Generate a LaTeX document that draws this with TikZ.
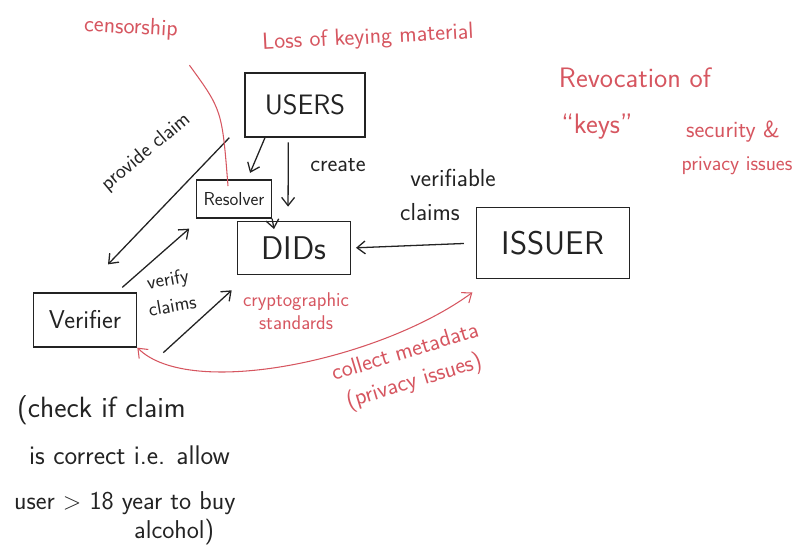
\documentclass[tikz,border=0pt]{standalone}
\usepackage{xcolor}
\usetikzlibrary{arrows.meta}
\definecolor{ink}{RGB}{35,35,35}
\definecolor{marker}{RGB}{214,86,96}

\begin{document}
\begin{tikzpicture}
[x=0.03cm,y=-0.03cm,
fs/.style={font=\sffamily\fontsize{#1}{#1}\selectfont},
box/.style={draw=ink,line width=1.1pt,text=ink,inner sep=2pt},
txt/.style={text=ink},
note/.style={text=marker},
arr/.style={-{Straight Barb[length=7pt,width=11pt]},line width=1.1pt,draw=ink},
rarr/.style={{Straight Barb[length=7pt,width=11pt]}-{Straight Barb[length=7pt,width=11pt]},line width=0.9pt,draw=marker},
rline/.style={line width=0.9pt,draw=marker}]
\useasboundingbox (0,0) rectangle (804,552);
% boxes
\node[box,fs=24,minimum width=3.6cm,minimum height=1.92cm] (users) at (305,105) {USERS};
\node[box,fs=16,minimum width=2.25cm,minimum height=1.14cm] (resolver) at (234,199) {Resolver};
\node[box,fs=28,minimum width=3.4cm,minimum height=1.6cm] (dids) at (294,248) {DIDs};
\node[box,fs=28,minimum width=4.6cm,minimum height=2.13cm] (issuer) at (553,243) {ISSUER};
\node[box,fs=22,minimum width=3.1cm,minimum height=1.62cm] (verifier) at (85,320) {Verifier};
% black labels
\node[txt,fs=20] (create) at (338,165) {create};
\node[txt,fs=21] (verifiable) at (453,178) {verifiable};
\node[txt,fs=21] (claims) at (430,212) {claims};
\node[txt,fs=18,rotate=40] (provide) at (146,152) {provide claim};
\node[txt,fs=17,align=center,rotate=10] (verify) at (170,292) {verify\\[6pt]claims};
\node[txt,fs=25,anchor=west] (check) at (13,410) {(check if claim};
\node[txt,fs=23,anchor=west] (correct) at (25,455) {is correct i.e. allow};
\node[txt,fs=22,anchor=west] (user) at (10,503) {user $>$ 18 year to buy};
\node[txt,fs=22,anchor=west] (alcohol) at (130,532) {alcohol)};
% red notes
\node[note,fs=20,rotate=-3] (censorship) at (131,28) {censorship};
\node[note,fs=20,rotate=3] (keying) at (368,38) {Loss of keying material};
\node[note,fs=17,align=center] (crypto) at (296,311) {cryptographic\\[3pt]standards};
\node[note,fs=20,align=center,rotate=17] (metadata) at (410,368) {collect metadata\\[6pt](privacy issues)};
\node[note,fs=24] (revocation) at (635,78) {Revocation of};
\node[note,fs=24] (keys) at (597,127) {“keys”};
\node[note,fs=20] (security) at (733,132) {security \&};
\node[note,fs=18] (privacy) at (737,166) {privacy issues};
% connectors
\draw[arr,shorten >=6pt] ([xshift=-1.2cm]users.south) -- ([xshift=0.4cm]resolver.north);
\draw[arr,shorten <=4pt,shorten >=12pt] ([xshift=-0.5cm]users.south) -- ([xshift=-0.18cm]dids.north);
\draw[arr] (resolver.south east) -- ([xshift=-0.6cm,yshift=-0.25cm]dids.north);
\draw[arr] ([xshift=-0.45cm]users.south west) -- ([xshift=0.69cm,yshift=0.84cm]verifier.north);
\draw[arr] ([xshift=-0.45cm,yshift=0.15cm]verifier.north east) -- ([xshift=-0.2cm,yshift=-0.3cm]resolver.south west);
\draw[arr] ([xshift=0.78cm,yshift=-0.15cm]verifier.south east) -- ([xshift=-0.15cm,yshift=-0.45cm]dids.south west);
\draw[arr,shorten <=10pt,shorten >=4pt] (issuer.west) -- (dids.east);
\draw[rline] ([xshift=0.25cm,yshift=-0.6cm]censorship.south east) .. controls (222,110) .. ([xshift=-0.18cm,yshift=-0.2cm]resolver.north);
\draw[rarr] (verifier.south east) .. controls (190,400) and (380,360) .. ([xshift=-0.1cm,yshift=-0.4cm]issuer.south west);
\end{tikzpicture}
\end{document}
